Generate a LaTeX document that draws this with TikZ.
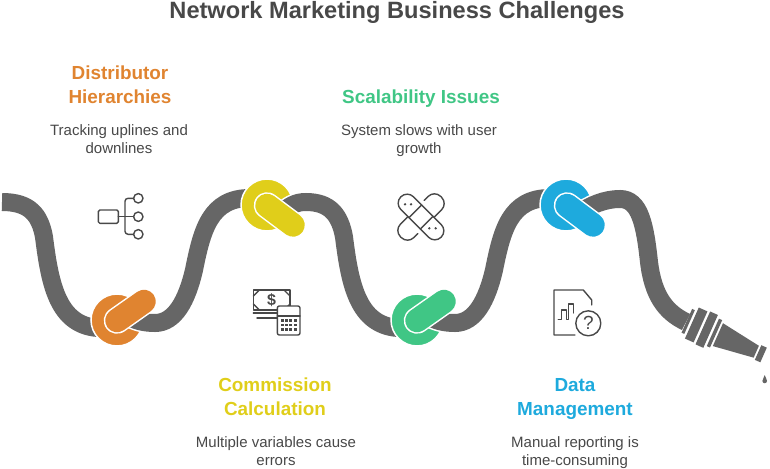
\documentclass[tikz,border=0pt]{standalone}
\usepackage{fontspec}
\setmainfont{Liberation Sans}
\definecolor{tubegray}{HTML}{666666}
\definecolor{inkgray}{HTML}{484848}
\definecolor{knotorange}{HTML}{E08430}
\definecolor{knotyellow}{HTML}{E0CE1A}
\definecolor{knotgreen}{HTML}{40C685}
\definecolor{knotblue}{HTML}{1EAADD}

\begin{document}
\begin{tikzpicture}[x=1pt,y=-1pt,
                       tube/.style={draw=tubegray,line width=18pt},
                       cased tube/.style={tube,preaction={draw=white,line width=21pt}},
                       knot/.style={circle,draw=white,line width=1.5pt,minimum size=52pt,inner sep=0pt},
                       band/.style={line width=23.5pt,line cap=round,preaction={draw=white,line width=26.5pt,line cap=round}},
                       fitting/.style={fill=tubegray},
                       icon/.style={draw=inkgray,line width=1.4pt,line join=round,line cap=round},
                       heading/.style={font=\fontsize{18.9}{24}\selectfont\bfseries,align=center},
                       body/.style={font=\fontsize{15}{18}\selectfont,text=inkgray,align=center}
                      ]
  \useasboundingbox (0,0) rectangle (770,468);

  % title
  \node[font=\fontsize{23.6}{28}\selectfont\bfseries,text=inkgray,inner sep=0pt] (title) at (397,12) {Network Marketing Business Challenges};

  % labels
  \node[heading,text=knotorange] (hierarchies) at (120,85) {Distributor\\Hierarchies};
  \node[body] (hierarchiestext) at (119,139) {Tracking uplines and\\downlines};
  \node[heading,text=knotgreen] (scalability) at (421,99) {Scalability Issues};
  \node[body] (scalabilitytext) at (419,141) {System slows with user\\growth};
  \node[heading,text=knotyellow] (commission) at (275,397) {Commission\\Calculation};
  \node[body] (commissiontext) at (276,451) {Multiple variables cause\\errors};
  \node[heading,text=knotblue] (datamgmt) at (575,399) {Data\\Management};
  \node[body] (datamgmttext) at (575,453) {Manual reporting is\\time-consuming};

  % tube, piece by piece
  \draw[tube] (2,202) .. controls (30,202) and (40,215) .. (44,237) .. controls (50,285) and (58,325) .. (98,328);
  \node[knot,fill=knotorange] (orangeknot) at (117,320) {};
  \draw[cased tube] (128,316) .. controls (135,321) and (145,323) .. (155,323) .. controls (175,323) and (187,300) .. (194,270) .. controls (202,230) and (210,198) .. (250,198);
  \draw[band,knotorange] (117,320.5) -- (144,301.5);

  \node[knot,fill=knotyellow] (yellowknot) at (267,205) {};
  \draw[cased tube] (279,214) .. controls (290,206) and (295,202) .. (306,202) .. controls (330,202) and (340,215) .. (344,237) .. controls (350,285) and (358,325) .. (398,328);
  \draw[band,knotyellow] (267,205.5) -- (293,225);

  \node[knot,fill=knotgreen] (greenknot) at (417,320) {};
  \draw[cased tube] (428,316) .. controls (435,321) and (445,323) .. (455,323) .. controls (475,323) and (487,300) .. (494,270) .. controls (502,230) and (510,198) .. (550,198);
  \draw[band,knotgreen] (417,320.5) -- (444,301.5);

  \node[knot,fill=knotblue] (blueknot) at (566,205) {};
  \draw[cased tube] (578,214) .. controls (590,205) and (605,199) .. (620,199) .. controls (640,199) and (645,225) .. (649,262) .. controls (653,295) and (665,312) .. (686,322);
  \draw[band,knotblue] (567,205.5) -- (593,225);

  % nozzle
  \begin{scope}[shift={(685,320)},rotate=-24]
    \fill[fitting] (2,-13) rectangle (5,13);
    \fill[fitting] (7.5,-17) rectangle (17,17);
    \fill[fitting] (19.5,-18) rectangle (28,18);
    \fill[fitting] (30.5,-15) rectangle (34,15);
    \fill[fitting] (36,-12.5) -- (78,-6.5) -- (78,6.5) -- (36,12.5) -- cycle;
    \fill[fitting] (80,-8) rectangle (86,8);
  \end{scope}
  \fill[fitting] (764.7,375) .. controls (765.5,378) and (767,379) .. (767,381) .. controls (767,384) and (762.4,384) .. (762.4,381) .. controls (762.4,379) and (764,378) .. (764.7,375) -- cycle;

  % hierarchy icon
  \draw[icon,rounded corners=1.5pt] (98.3,210) rectangle (118.3,223.3);
  \draw[icon] (118.3,216.7) -- (133.6,216.7);
  \draw[icon,rounded corners=3pt] (133.6,198.3) -- (125,198.3) -- (125,234.3) -- (133.6,234.3);
  \draw[icon] (138.3,198.3) circle (4.7);
  \draw[icon] (138.3,216.7) circle (4.7);
  \draw[icon] (138.3,234.3) circle (4.7);

  % money and calculator icon
  \draw[icon] (253.3,290) rectangle (290,310);
  \draw[icon] (253.3,296) -- (259.5,290) (253.3,304) -- (259.5,310) (284,290) -- (290,296) (284,310) -- (290,304);
  \node[font=\fontsize{16}{16}\selectfont\bfseries,text=inkgray,inner sep=0pt] (dollar) at (271.5,300) {\$};
  \draw[icon] (253.3,313) -- (277,313) (257,318) -- (277,318);
  \draw[icon,fill=white,rounded corners=2pt] (277.3,306) rectangle (300,335);
  \draw[icon] (277.3,316) -- (300,316);
  \foreach \cx in {282,286.3,290.6,295}
    \foreach \cy in {320.5,325,329.5}
      \fill[inkgray] (\cx-1.5,\cy-1.2) rectangle (\cx+1.5,\cy+1.2);

  % bandage icon
  \begin{scope}[shift={(421,217)},rotate=45]
    \draw[icon,rounded corners=8.9pt] (-9,-28.5) rectangle (9,28.5);
    \draw[icon] (-9,-8) -- (9,-8) (-9,8) -- (9,8);
    \draw[icon,rounded corners=8.9pt] (14,-9.5) -- (28.5,-9.5) -- (28.5,9.5) -- (9,9.5);
    \draw[icon,rounded corners=8.9pt] (-14,9.5) -- (-28.5,9.5) -- (-28.5,-9.5) -- (-9,-9.5);
  \end{scope}
  \fill[inkgray] (405,204.3) circle (1.3) (411,204.3) circle (1.3) (429.3,228.3) circle (1.3) (435.7,228.3) circle (1.3);

  % report icon
  \draw[icon] (591.7,305) -- (591.7,300) -- (583.3,290) -- (554,290) -- (554,335) -- (575,335);
  \draw[icon] (558.3,319.3) -- (561.7,319.3) -- (561.7,310) -- (566.7,310) -- (566.7,319.3) -- (568.3,319.3) -- (568.3,304) -- (573.3,304) -- (573.3,313);
  \draw[icon] (588.3,323.3) circle (12.5);
  \node[font=\fontsize{19}{19}\selectfont,text=inkgray,inner sep=0pt] (question) at (588.3,323.3) {?};
\end{tikzpicture}
\end{document}
